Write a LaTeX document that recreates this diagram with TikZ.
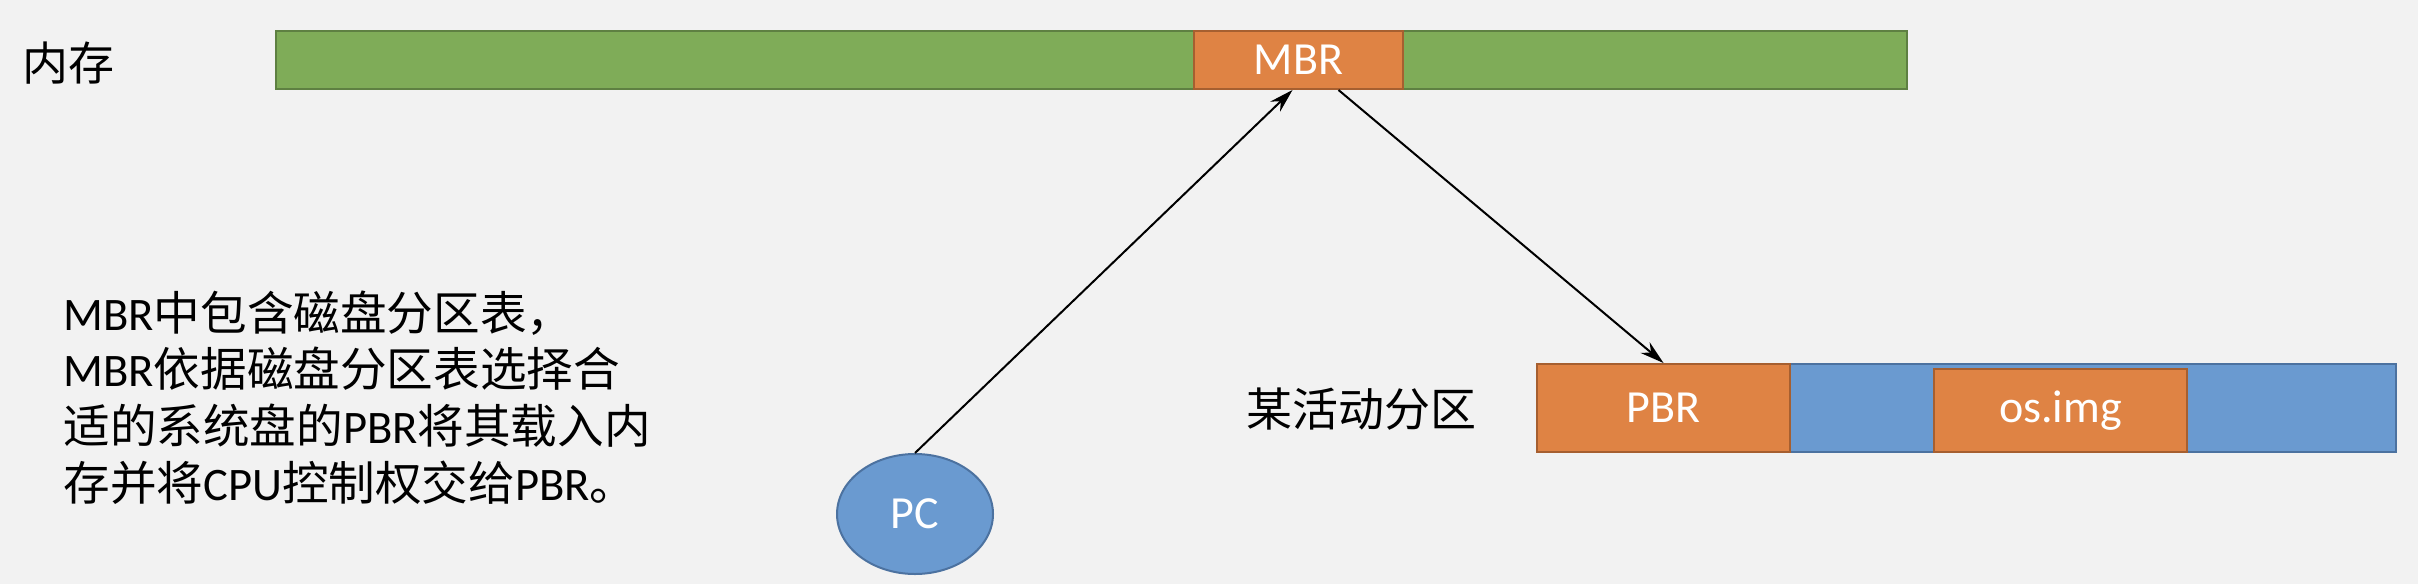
\documentclass[tikz,border=0pt]{standalone}
\usepackage{fontspec}
\setmainfont{Carlito}
\newfontfamily\cjk{Noto Sans CJK SC}
\usetikzlibrary{shapes.geometric,arrows.meta,calc}
\definecolor{bg}{HTML}{F2F2F2}
\definecolor{memgreen}{HTML}{7FAC58}
\definecolor{memgreenline}{HTML}{5E8042}
\definecolor{orangefill}{HTML}{DF8344}
\definecolor{orangeline}{HTML}{A65F30}
\definecolor{bluefill}{HTML}{6A9AD0}
\definecolor{blueline}{HTML}{4C72A0}
\tikzset{
  box/.style={draw, line width=1pt, inner sep=0pt, anchor=center},
  greenbox/.style={box, fill=memgreen, draw=memgreenline},
  orangebox/.style={box, fill=orangefill, draw=orangeline, text=white, font=\fontsize{23}{27}\selectfont},
  bluebox/.style={box, fill=bluefill, draw=blueline},
  pcnode/.style={ellipse, draw=blueline, line width=1pt, fill=bluefill, text=white, inner sep=0pt, font=\fontsize{23}{27}\selectfont},
  lbl/.style={inner sep=0pt, font=\fontsize{23}{27}\selectfont},
  conn/.style={-{Stealth[length=12pt,width=7pt]}, line width=1pt, black}
}
\begin{document}
\begin{tikzpicture}[x=0.5pt,y=-0.5pt]
\fill[bg] (0,0) rectangle (2418,584);
\useasboundingbox (0,0) rectangle (2418,584);
% memory bar
\node[greenbox, minimum width=815.5pt, minimum height=29pt] (mem) at (1091.5,60) {};
\node[orangebox, minimum width=104.5pt, minimum height=29pt] (mbr) at (1298.5,60) {MBR};
\node[lbl, anchor=west] (memlbl) at (22,63) {\cjk 内存};
% partition bar
\node[bluebox, minimum width=429pt, minimum height=44pt] (part) at (1966.5,408) {};
\node[orangebox, minimum width=126.5pt, minimum height=44pt] (pbr) at (1663.5,408) {PBR};
\node[orangebox, minimum width=126.5pt, minimum height=41.5pt] (osimg) at (2060.5,410.5) {os.img};
\node[lbl, anchor=west] (partlbl) at (1246,409) {\cjk 某活动分区};
% PC
\node[pcnode, minimum width=78pt, minimum height=60pt] (pc) at (915,514) {PC};
% description
\node[lbl, anchor=north west, align=left, font=\fontsize{23.3}{28.4}\selectfont] (desc) at (63,290)
  {MBR{\cjk 中包含磁盘分区表，}\\
   MBR{\cjk 依据磁盘分区表选择合}\\
   {\cjk 适的系统盘的}PBR{\cjk 将其载入内}\\
   {\cjk 存并将}CPU{\cjk 控制权交给}PBR{\cjk 。}};
% connectors
\draw[conn] (pc.north) -- ([xshift=-3pt]mbr.south);
\draw[conn] ([xshift=20pt]mbr.south) -- (pbr.north);
\end{tikzpicture}
\end{document}
